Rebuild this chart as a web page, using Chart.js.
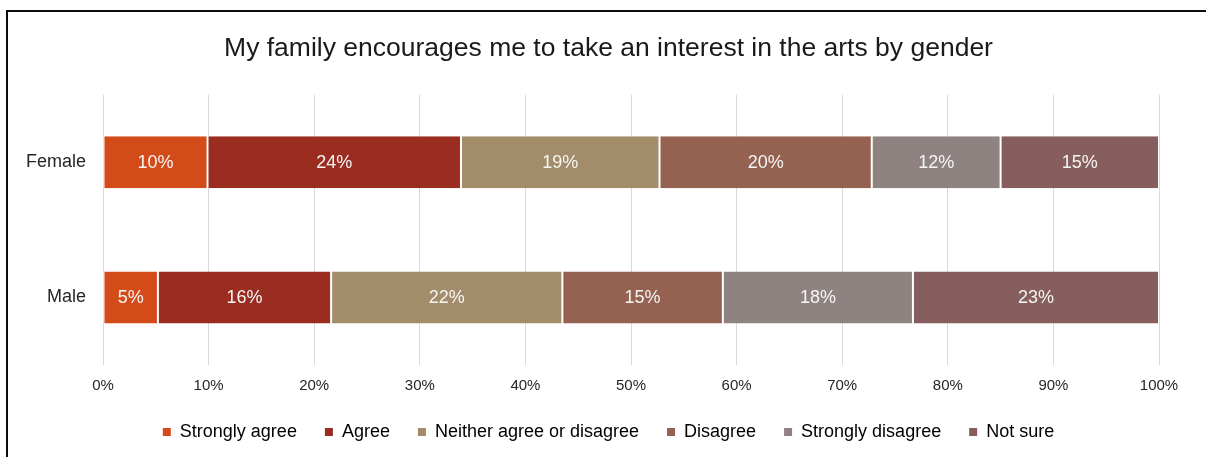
<!DOCTYPE html>
<html>
<head>
<meta charset="utf-8">
<script src="https://cdn.jsdelivr.net/npm/chart.js@4.4.1/dist/chart.umd.min.js"></script>
<style>
  html, body { margin: 0; padding: 0; background: #fff; }
  #wrap { position: relative; width: 1206px; height: 457px; overflow: hidden; }
  #frame { position: absolute; left: 6px; top: 10px; width: 1210px; height: 460px;
           border-top: 2px solid #0d0d0d; border-left: 2px solid #0d0d0d; pointer-events: none; }
  canvas { position: absolute; left: 0; top: 0; }
</style>
</head>
<body>
<div id="wrap">
  <canvas id="canvas" width="1206" height="457"></canvas>
  <div id="frame"></div>
</div>
<script>
    "use strict";
    var categories = ['Female', 'Male'];
    var seriesNames = ['Strongly agree', 'Agree', 'Neither agree or disagree', 'Disagree', 'Strongly disagree', 'Not sure'];
    var stronglyAgree = [9.9, 5.2];
    var agree = [24.0, 16.4];
    var neither = [18.8, 21.9];
    var disagree = [20.1, 15.2];
    var stronglyDisagree = [12.2, 18.0];
    var notSure = [15.0, 23.3];
    var xTicks = [0, 10, 20, 30, 40, 50, 60, 70, 80, 90, 100];
    var color_set = ['#D44B1A', '#9A2C20', '#A28C6A', '#956251', '#8F8382', '#865E5D'];

    var FONT = '"Liberation Sans", Arial, sans-serif';
    var values = [stronglyAgree, agree, neither, disagree, stronglyDisagree, notSure];

    var datasets = [];
    for (var i = 0; i < seriesNames.length; i++) {
        datasets.push({
            label: seriesNames[i],
            data: values[i],
            backgroundColor: color_set[i],
            borderColor: '#ffffff',
            borderWidth: {left: 1, right: 1, top: 0, bottom: 0},
            borderSkipped: false,
            barPercentage: 0.385,
            categoryPercentage: 1
        });
    }

    // draws the rounded % inside each segment
    var ksLabels = {
        id: 'ksLabels',
        afterDatasetsDraw: function (chart) {
            var ctx = chart.ctx;
            ctx.save();
            ctx.font = '18px ' + FONT;
            ctx.fillStyle = '#f5f5f5';
            ctx.textAlign = 'center';
            ctx.textBaseline = 'middle';
            chart.data.datasets.forEach(function (ds, di) {
                chart.getDatasetMeta(di).data.forEach(function (bar, j) {
                    var p = bar.getCenterPoint();
                    ctx.fillText(Math.round(ds.data[j]) + '%', p.x, p.y + 1);
                });
            });
            ctx.restore();
        }
    };

    var ctx = document.getElementById('canvas').getContext('2d');
    var myChart = new Chart(ctx, {
        type: 'bar',
        data: { labels: categories, datasets: datasets },
        plugins: [ksLabels],
        options: {
            indexAxis: 'y',
            responsive: false,
            animation: false,
            layout: { padding: { left: 58, right: 47, top: 0, bottom: 6 } },
            scales: {
                x: {
                    stacked: true,
                    min: 0,
                    max: 100,
                    afterBuildTicks: function (scale) {
                        scale.ticks = xTicks.map(function (v) { return {value: v}; });
                    },
                    afterFit: function (scale) { scale.height = 30; },
                    grid: { color: '#d9d9d9', lineWidth: 1, drawTicks: false },
                    border: { display: false },
                    ticks: {
                        padding: 12,
                        color: '#262626',
                        font: { family: FONT, size: 15 },
                        callback: function (v) { return v + '%'; }
                    }
                },
                y: {
                    stacked: true,
                    afterFit: function (scale) {
                        scale.width = 45;
                        // category labels sit left of the narrow axis box, so don't clip them
                        scale._computeLabelArea = function () { return undefined; };
                    },
                    grid: { display: false, drawTicks: false },
                    border: { display: false },
                    ticks: {
                        padding: 17,
                        color: '#262626',
                        font: { family: FONT, size: 18 }
                    }
                }
            },
            plugins: {
                title: {
                    display: true,
                    text: 'My family encourages me to take an interest in the arts by gender',
                    color: '#1a1a1a',
                    font: { family: FONT, size: 26.5, weight: 'normal', lineHeight: 1.2 },
                    padding: { top: 33, bottom: 30 }
                },
                legend: {
                    position: 'bottom',
                    labels: {
                        boxWidth: 8,
                        boxHeight: 8,
                        padding: 28,
                        color: '#262626',
                        font: { family: FONT, size: 18 },
                        generateLabels: function (chart) {
                            return chart.data.datasets.map(function (ds, k) {
                                return {
                                    text: ds.label,
                                    fillStyle: ds.backgroundColor,
                                    strokeStyle: ds.backgroundColor,
                                    lineWidth: 0,
                                    datasetIndex: k
                                };
                            });
                        }
                    }
                },
                tooltip: { enabled: false }
            }
        }
    });
</script>
</body>
</html>
